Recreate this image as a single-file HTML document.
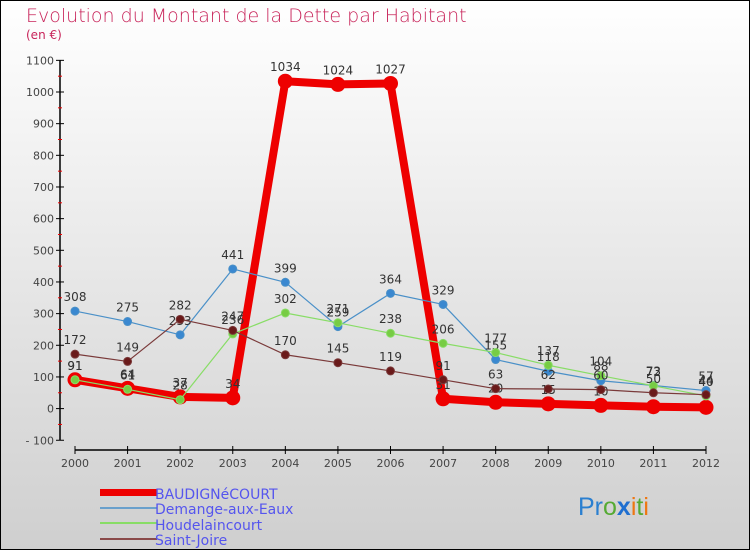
<!DOCTYPE html>
<html><head><meta charset="utf-8"><style>
body{margin:0;width:750px;height:550px;overflow:hidden}
svg{display:block;font-family:"DejaVu Sans","Liberation Sans",sans-serif}
</style></head><body>
<svg width="750" height="550">
<defs><linearGradient id="bg" x1="0" y1="0" x2="0" y2="1"><stop offset="0" stop-color="#ffffff"/><stop offset="1" stop-color="#cfcfcf"/></linearGradient></defs>
<rect x="0.5" y="0.5" width="749" height="549" fill="url(#bg)" stroke="#000"/>
<text x="26" y="22" font-size="19" fill="#c8245a" font-weight="300">Evolution du Montant de la Dette par Habitant</text>
<text x="26" y="39" font-size="12" fill="#c8245a">(en €)</text>
<g id="axes"></g><g id="series"></g>
<g>
<rect x="100" y="489" width="57" height="7" fill="#ee0000"/>
<rect x="100" y="507" width="57" height="2" fill="#6aa0cc"/>
<rect x="100" y="522" width="57" height="2" fill="#88dd66"/>
<rect x="100" y="538" width="57" height="2" fill="#8a4a4a"/>
<g font-size="14" fill="#5555ee">
<text x="155" y="499">BAUDIGNéCOURT</text>
<text x="155" y="514">Demange-aux-Eaux</text>
<text x="155" y="530">Houdelaincourt</text>
<text x="155" y="545">Saint-Joire</text>
</g></g>
<text x="578" y="515" font-size="25" font-family="Liberation Sans,sans-serif"><tspan fill="#2a7fd0">Pr</tspan><tspan fill="#55aa33">o</tspan><tspan fill="#1f6fd0" font-weight="bold">x</tspan><tspan fill="#ee7711">i</tspan><tspan fill="#55aa33">t</tspan><tspan fill="#ee7711">i</tspan></text>
</svg>
<script>
const years=[2000,2001,2002,2003,2004,2005,2006,2007,2008,2009,2010,2011,2012];
const baud=[91,64,37,34,1034,1024,1027,31,20,15,10,6,4];
const demange=[308,275,233,441,399,259,364,329,155,118,88,73,57];
const houd=[91,61,28,236,302,271,238,206,177,137,104,72,40];
const joire=[172,149,282,247,170,145,119,91,63,62,60,50,44];
const yTicks=[-100,0,100,200,300,400,500,600,700,800,900,1000,1100];
const NS="http://www.w3.org/2000/svg";
const xs=i=>75+i*(706-75)/12;
const ys=v=>408.6-v*0.3166;
function mk(t,a,p){const e=document.createElementNS(NS,t);for(const k in a)e.setAttribute(k,a[k]);p.appendChild(e);return e;}
const ax=document.getElementById('axes');
let l=mk('line',{x1:60,y1:ys(1100),x2:60,y2:ys(-100),stroke:'#000','stroke-width':1.5},ax);


l=mk('line',{x1:xs(0),y1:450,x2:xs(12),y2:450,stroke:'#000','stroke-width':1.5},ax);


yTicks.forEach(v=>{
  mk('line',{x1:56,y1:ys(v),x2:64,y2:ys(v),stroke:'#000'},ax);
  if(v<1100)mk('line',{x1:58,y1:ys(v+50),x2:62,y2:ys(v+50),stroke:'#e00'},ax);
  const t=mk('text',{x:54,y:ys(v)+4,'font-size':11,fill:'#444','text-anchor':'end'},ax);
  t.textContent=v<0?'- '+(-v):v;
  
  
});
years.forEach((y,i)=>{
  mk('line',{x1:xs(i),y1:446,x2:xs(i),y2:454,stroke:'#000'},ax);
  const t=mk('text',{x:xs(i),y:467,'font-size':11,fill:'#444','text-anchor':'middle'},ax);
  t.textContent=y;
  
  
});
const sg=document.getElementById('series');
function draw(name,vals,color,w,r,fill,labels){
  const g=mk('g',{},sg);
  
  
  const p=mk('polyline',{points:vals.map((v,i)=>xs(i)+','+ys(v)).join(' '),fill:'none',stroke:color,'stroke-width':w,'stroke-linejoin':'round'},g);
  vals.forEach((v,i)=>{
    const c=mk('circle',{cx:xs(i),cy:ys(v),r:r,fill:fill,stroke:color,'stroke-width':1},g);
    
    
    if(labels){const t=mk('text',{x:xs(i),y:ys(v)-10,'font-size':12,fill:'#333','text-anchor':'middle'},g);t.textContent=v;
    
    }
  });
}
draw('baudignecourt',baud,'#ee0000',8,7,'#ee0000',true);
draw('demange',demange,'#4a90c8',1.2,4,'#3a88d0',true);
draw('houdelaincourt',houd,'#88dd66',1.2,4,'#77cc44',true);
draw('saint-joire',joire,'#7a3a3a',1.2,4,'#6a1a1a',true);
</script>
</body></html>
